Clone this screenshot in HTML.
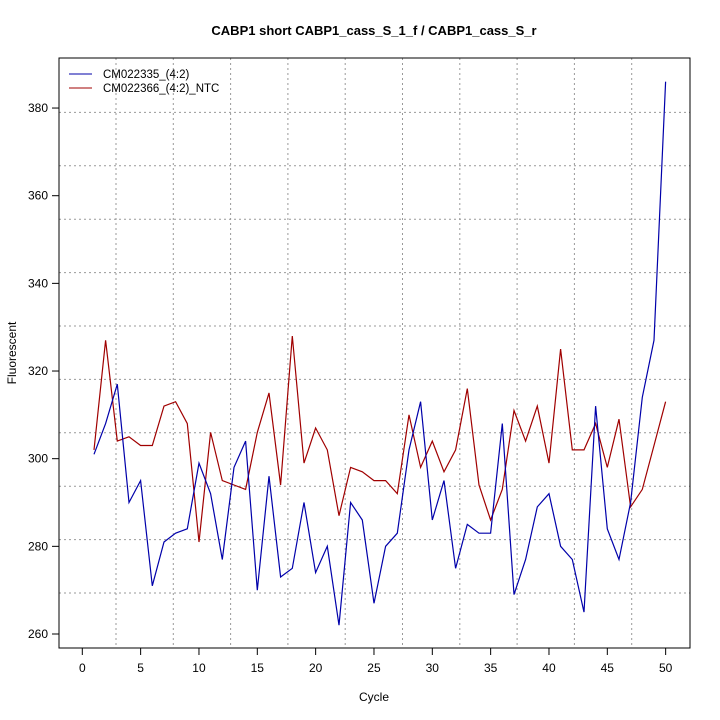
<!DOCTYPE html>
<html><head><meta charset="utf-8"><style>body{margin:0;background:#fff}svg{display:block;font-family:"Liberation Sans",sans-serif}</style></head>
<body>
<svg id="s" width="720" height="720" xmlns="http://www.w3.org/2000/svg">
<rect width="720" height="720" fill="#fff"/>
<g id="grid" stroke="#999" stroke-width="1" stroke-dasharray="2,3"></g>
<polyline id="red" fill="none" stroke="#a00000" stroke-width="1.2"/>
<polyline id="blue" fill="none" stroke="#0000aa" stroke-width="1.2"/>
<rect x="59" y="58" width="631" height="590" fill="none" stroke="#000"/>
<g id="ax" stroke="#000"></g>
<g id="lb" font-size="12" fill="#000"></g>
<text x="374" y="35" text-anchor="middle" font-size="13" font-weight="bold">CABP1 short CABP1_cass_S_1_f / CABP1_cass_S_r</text>
<text x="374" y="701" text-anchor="middle" font-size="12">Cycle</text>
<text transform="translate(16,353) rotate(-90)" text-anchor="middle" font-size="12">Fluorescent</text>
<line x1="69" y1="74" x2="92" y2="74" stroke="#0000aa"/>
<line x1="69" y1="88" x2="92" y2="88" stroke="#a00000"/>
<text x="103" y="78" font-size="11.5">CM022335_(4:2)</text>
<text x="103" y="92" font-size="11.5">CM022366_(4:2)_NTC</text>
</svg>
<script>
var B=[301,308,317,290,295,271,281,283,284,299,292,277,298,304,270,296,273,275,290,274,280,262,290,286,267,280,283,302,313,286,295,275,285,283,283,308,269,277,289,292,280,277,265,312,284,277,290,314,327,386];
var R=[302,327,304,305,303,303,312,313,308,281,306,295,294,293,306,315,294,328,299,307,302,287,298,297,295,295,292,310,298,304,297,302,316,294,286,293,311,304,312,299,325,302,302,308,298,309,289,293,303,313];
function X(c){return 82.3+c*11.667}function Y(v){return 634-(v-260)*4.383}
function pts(a){return a.map(function(v,i){return X(i+1).toFixed(1)+","+Y(v).toFixed(1)}).join(" ")}
document.getElementById("blue").setAttribute("points",pts(B));
document.getElementById("red").setAttribute("points",pts(R));
var ns="http://www.w3.org/2000/svg",g=document.getElementById("grid"),ax=document.getElementById("ax"),lb=document.getElementById("lb");
function el(p,t,a,txt){var e=document.createElementNS(ns,t);for(var k in a)e.setAttribute(k,a[k]);if(txt!=null)e.textContent=txt;p.appendChild(e)}
for(var k=0;k<11;k++){var y=593-53.4*k;if(y>59)el(g,"line",{x1:59,x2:690,y1:y,y2:y})}
for(var k=0;k<10;k++){var x=116+57.3*k;el(g,"line",{x1:x,x2:x,y1:58,y2:648})}
for(var c=0;c<=50;c+=5){var x=X(c);el(ax,"line",{x1:x,x2:x,y1:648,y2:655});el(lb,"text",{x:x,y:672,"text-anchor":"middle"},c)}
for(var v=260;v<=380;v+=20){var y=Y(v);el(ax,"line",{x1:52,x2:59,y1:y,y2:y});el(lb,"text",{x:48,y:y+4,"text-anchor":"end"},v)}
</script>
</body></html>
